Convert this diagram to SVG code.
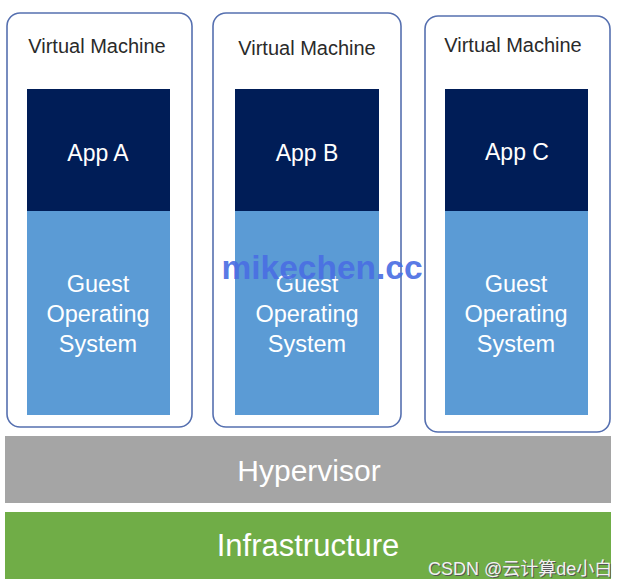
<svg xmlns="http://www.w3.org/2000/svg" width="636" height="588" viewBox="0 0 636 588">
<style>
.vm{fill:#ffffff;stroke:#5670b0;stroke-width:1.6}
.app{fill:#001d57}
.os{fill:#5b9bd5}
.t{font-family:"Liberation Sans",Arial,sans-serif;text-anchor:middle}
.vmt{font-size:20px;fill:#2a2a2a}
.w{fill:#ffffff}
.appt{font-size:23px}
.ost{font-size:23.5px}
.big{font-size:30px}
</style>
<rect width="636" height="588" fill="#ffffff"/>
<g id="vm1">
<rect class="vm" x="7" y="13" width="185" height="414" rx="13"/>
<text class="t vmt" x="97" y="53">Virtual Machine</text>
<rect class="app" x="27" y="89" width="143" height="122"/>
<text class="t w appt" x="98" y="161">App A</text>
<rect class="os" x="27" y="211" width="143" height="204"/>
<text class="t w ost" x="98" y="292">Guest</text>
<text class="t w ost" x="98" y="322">Operating</text>
<text class="t w ost" x="98" y="352">System</text>
</g>
<g id="vm2">
<rect class="vm" x="213" y="13" width="188" height="414" rx="13"/>
<text class="t vmt" x="307" y="55">Virtual Machine</text>
<rect class="app" x="235" y="89" width="144" height="122"/>
<text class="t w appt" x="307" y="161">App B</text>
<rect class="os" x="235" y="211" width="144" height="204"/>
<text class="t w ost" x="307" y="292">Guest</text>
<text class="t w ost" x="307" y="322">Operating</text>
<text class="t w ost" x="307" y="352">System</text>
</g>
<g id="vm3">
<rect class="vm" x="425" y="16" width="185" height="416" rx="13"/>
<text class="t vmt" x="513" y="52">Virtual Machine</text>
<rect class="app" x="445" y="89" width="143" height="122"/>
<text class="t w appt" x="517" y="160">App C</text>
<rect class="os" x="445" y="211" width="143" height="204"/>
<text class="t w ost" x="516" y="292">Guest</text>
<text class="t w ost" x="516" y="322">Operating</text>
<text class="t w ost" x="516" y="352">System</text>
</g>
<g id="hypervisor">
<rect x="5" y="436" width="606" height="67" fill="#a5a5a5"/>
<text class="t w big" x="309" y="481">Hypervisor</text>
</g>
<g id="infrastructure">
<rect x="5" y="512" width="606" height="67" fill="#70ad47"/>
<text class="t w big" style="font-size:31px" x="308" y="556">Infrastructure</text>
</g>
<g id="connectors"></g>
<text x="322" y="279" font-family="Liberation Sans,Arial,sans-serif" font-size="33.5" font-weight="bold" fill="#4a6ee3" fill-opacity="0.92" text-anchor="middle">mikechen.cc</text>
<g font-family="Liberation Sans,'Noto Sans CJK SC',sans-serif" font-size="18">
<text x="429" y="576" fill="#555555">CSDN @云计算de小白</text>
<text x="428" y="575" fill="#f2f2f2">CSDN @云计算de小白</text>
</g>
</svg>
